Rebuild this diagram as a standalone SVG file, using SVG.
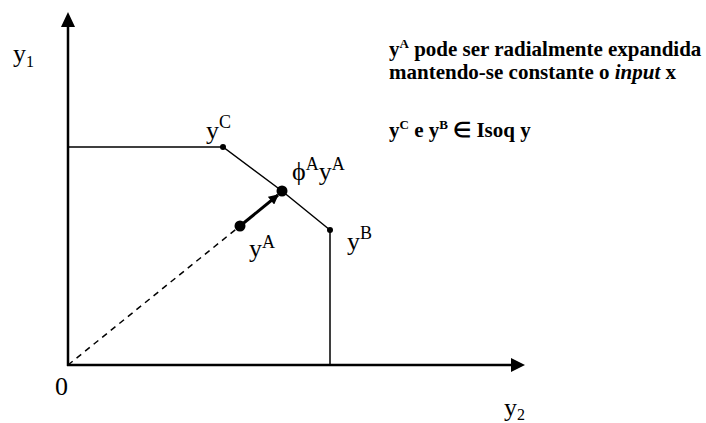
<svg xmlns="http://www.w3.org/2000/svg" width="706" height="423" viewBox="0 0 706 423">
<style>
text{font-family:"Liberation Serif","Times New Roman",serif;fill:#000}
.ax{stroke:#000;stroke-width:2.5;fill:none}
.ln{stroke:#000;stroke-width:1.5;fill:none}
.lbl{font-size:26px}
.sup{font-size:18px}
.sub{font-size:16px}
.note{font-size:21px;font-weight:bold}
.ns{font-size:13px}
</style>
<defs>
<marker id="ah" markerWidth="10" markerHeight="10" refX="9" refY="5" orient="auto" markerUnits="userSpaceOnUse" viewBox="0 0 10 10">
<path d="M0,0 L10,5 L0,10 z" fill="#000"/>
</marker>
</defs>
<rect width="706" height="423" fill="#fff"/>
<g id="connectors">
<line class="ax" x1="68" y1="366" x2="68" y2="26"/>
<path d="M61,27 L68,12 L75,27 z" fill="#000"/>
<line class="ax" x1="67" y1="365" x2="512" y2="365"/>
<path d="M511,358 L525,365 L511,372 z" fill="#000"/>
<polyline class="ln" points="68,147 223,147 282,191 330,230 330,365"/>
<line x1="68" y1="365" x2="240" y2="226" stroke="#000" stroke-width="1.5" stroke-dasharray="6,5"/>
<line x1="240" y1="226" x2="278" y2="195" stroke="#000" stroke-width="3" marker-end="url(#ah)"/>
</g>
<g id="yC"><circle cx="223" cy="147" r="3" fill="#000"/><text class="lbl" x="206" y="139">y<tspan class="sup" dy="-11">C</tspan></text></g>
<g id="phiA"><circle cx="282" cy="191" r="5.5" fill="#000"/><text class="lbl" x="292" y="180">ϕ<tspan class="sup" dy="-10">A</tspan><tspan dy="10">y</tspan><tspan class="sup" dy="-10">A</tspan></text></g>
<g id="yA"><circle cx="240" cy="226" r="5.5" fill="#000"/><text class="lbl" x="249" y="257">y<tspan class="sup" dy="-9">A</tspan></text></g>
<g id="yB"><circle cx="330" cy="230" r="3" fill="#000"/><text class="lbl" x="347" y="250">y<tspan class="sup" dy="-11">B</tspan></text></g>
<g id="axes-labels">
<text class="lbl" x="13" y="62">y<tspan class="sub" dy="5">1</tspan></text>
<text class="lbl" x="55" y="395">0</text>
<text class="lbl" x="504" y="416">y<tspan class="sub" dy="4">2</tspan></text>
</g>
<g id="notes">
<text class="note" x="389" y="56">y<tspan class="ns" dy="-8">A</tspan><tspan dy="8"> pode ser radialmente expandida</tspan></text>
<text class="note" x="389" y="79">mantendo-se constante o <tspan font-style="italic">input</tspan> x</text>
<text class="note" x="389" y="137">y<tspan class="ns" dy="-8">C</tspan><tspan dy="8"> e y</tspan><tspan class="ns" dy="-8">B</tspan><tspan dy="8"> ∈ Isoq y</tspan></text>
</g>
</svg>
